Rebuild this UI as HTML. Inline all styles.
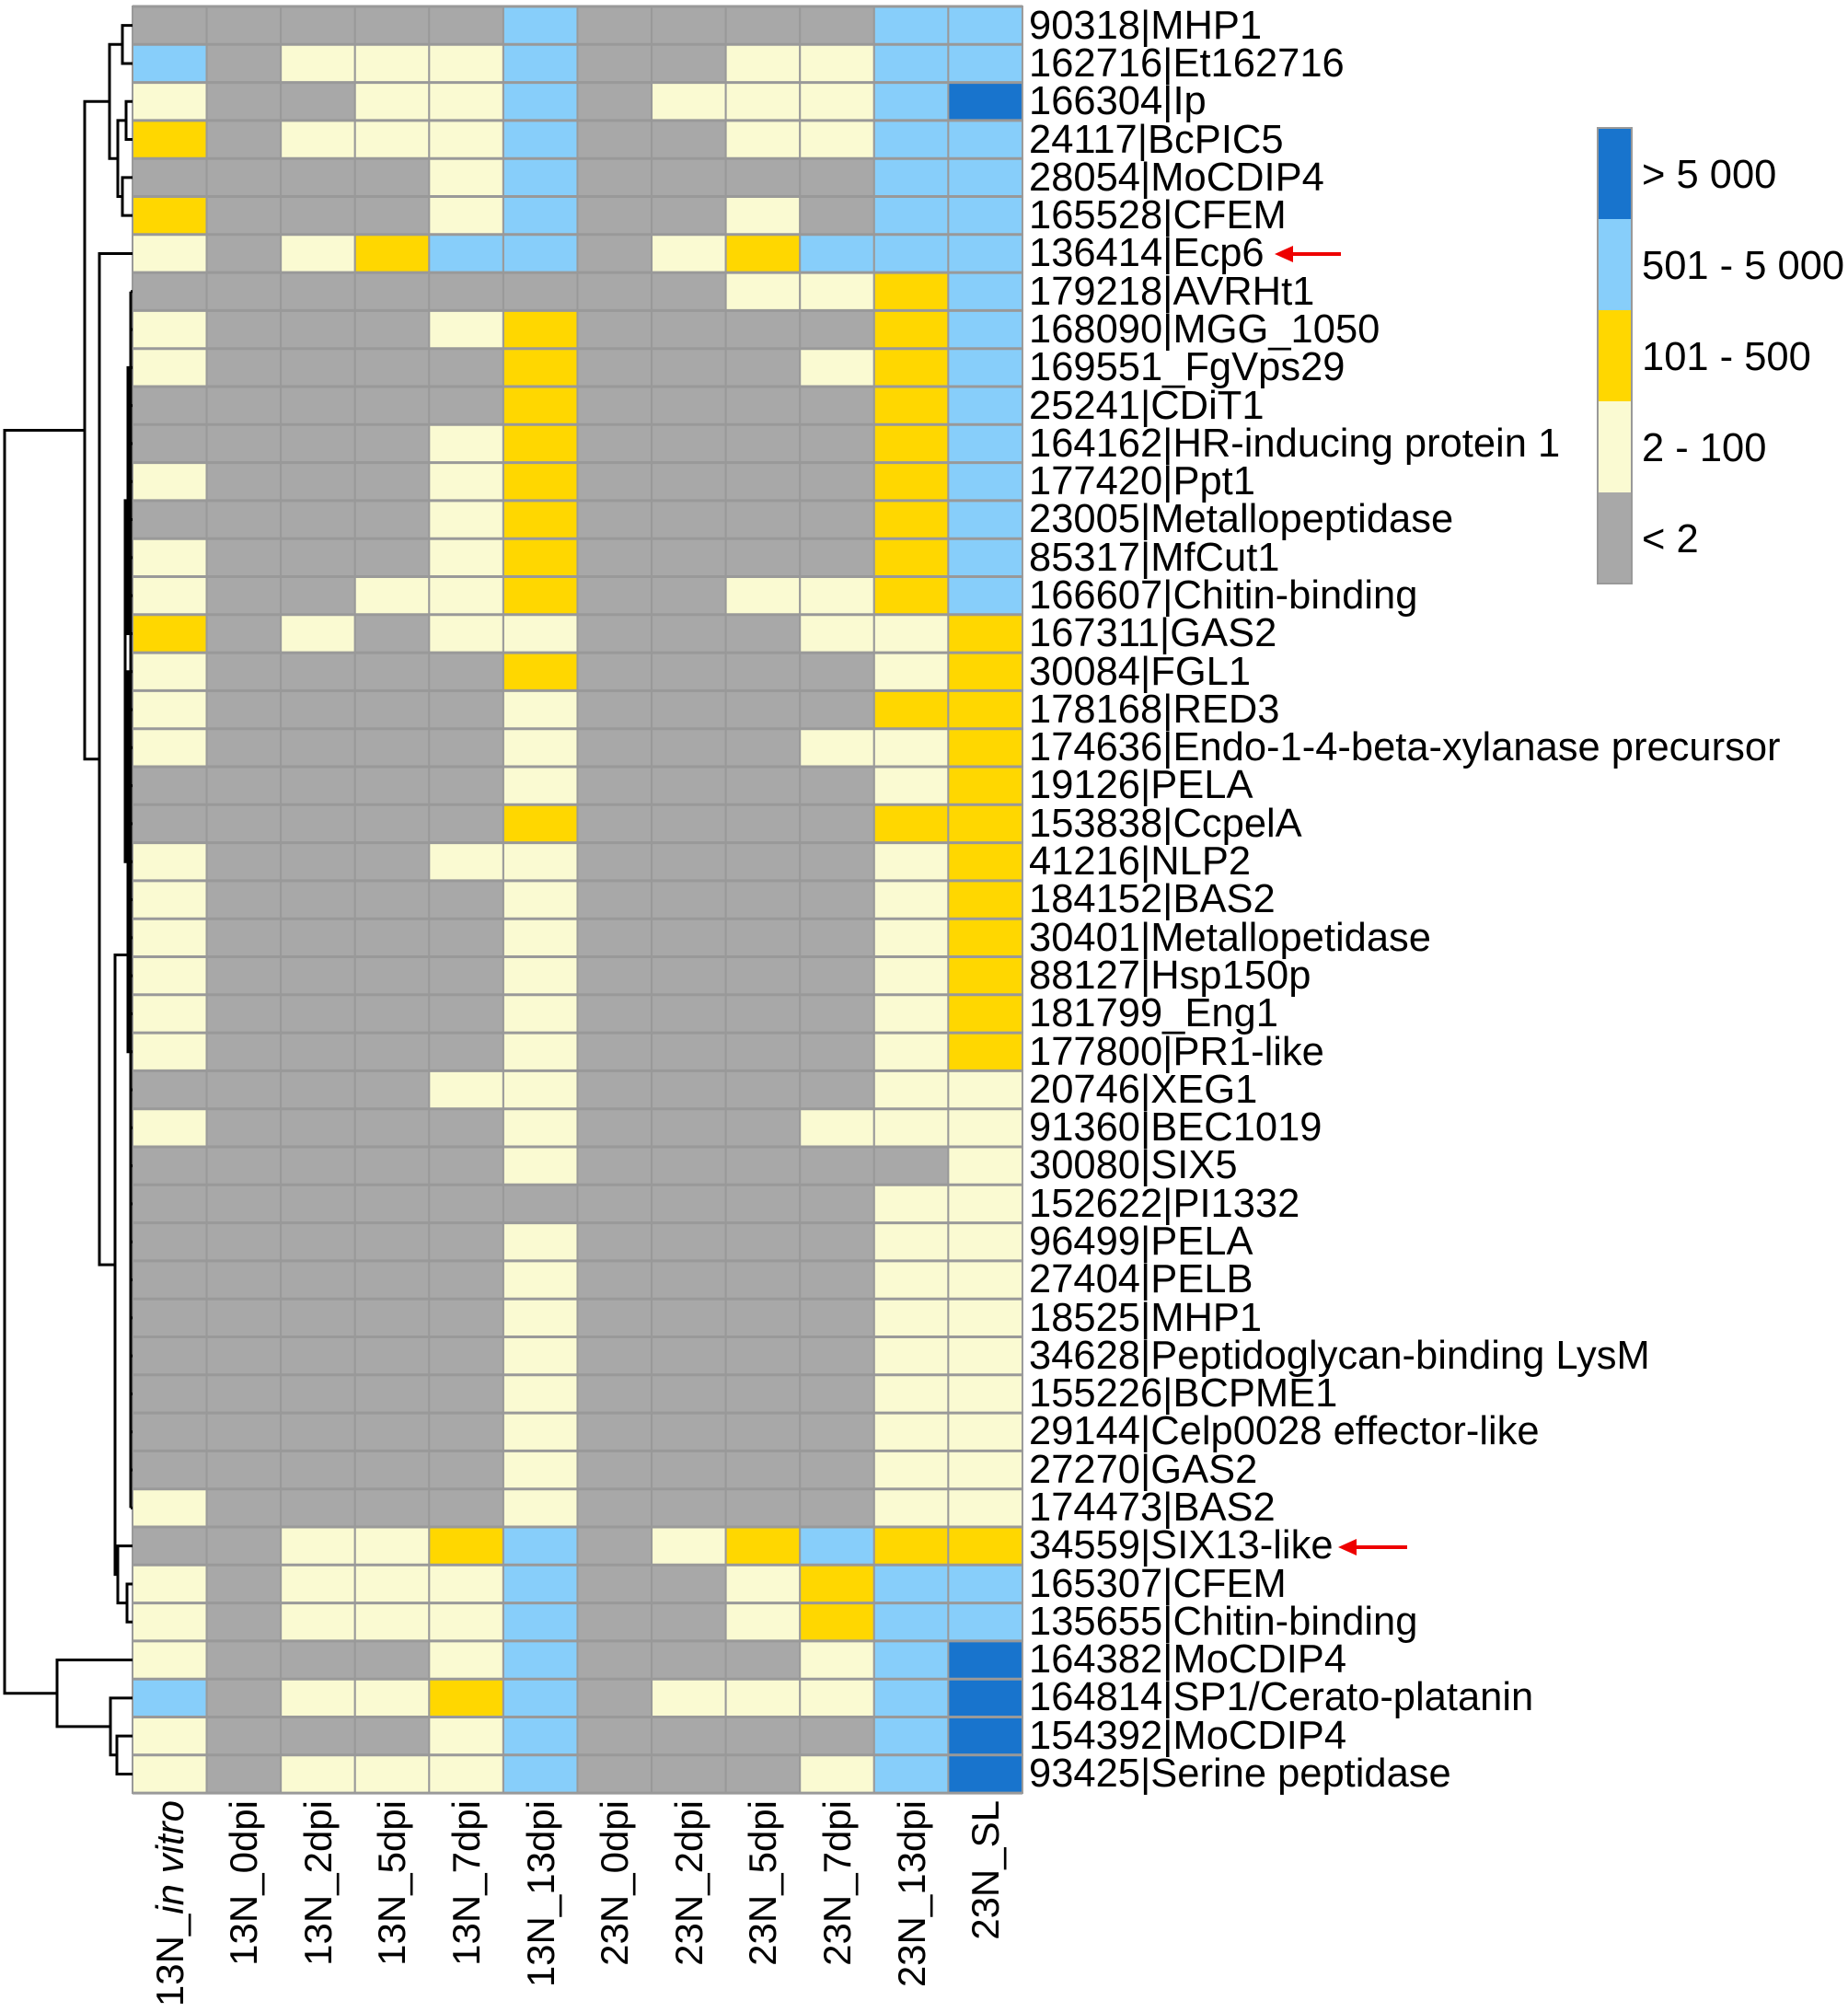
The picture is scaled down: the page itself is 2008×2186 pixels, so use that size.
<!DOCTYPE html>
<html><head><meta charset="utf-8"><style>
html,body{margin:0;padding:0;background:#fff}
svg{display:block}
text{font-family:"Liberation Sans",Arial,sans-serif;font-size:43.5px;fill:#000}
#collabels text{font-size:42px}
</style></head><body>
<svg id="s" width="2008" height="2186" viewBox="0 0 2008 2186" xmlns="http://www.w3.org/2000/svg">
<g id="cells"></g>
<g id="dend" stroke="#000" stroke-width="3" fill="none"></g>
<g id="rowlabels">
<text x="1118" y="42">90318|MHP1</text>
<text x="1118" y="83">162716|Et162716</text>
<text x="1118" y="124">166304|Ip</text>
<text x="1118" y="166">24117|BcPIC5</text>
<text x="1118" y="207">28054|MoCDIP4</text>
<text x="1118" y="248">165528|CFEM</text>
<text x="1118" y="289">136414|Ecp6</text>
<text x="1118" y="331">179218|AVRHt1</text>
<text x="1118" y="372">168090|MGG_1050</text>
<text x="1118" y="413">169551_FgVps29</text>
<text x="1118" y="455">25241|CDiT1</text>
<text x="1118" y="496">164162|HR-inducing protein 1</text>
<text x="1118" y="537">177420|Ppt1</text>
<text x="1118" y="578">23005|Metallopeptidase</text>
<text x="1118" y="620">85317|MfCut1</text>
<text x="1118" y="661">166607|Chitin-binding</text>
<text x="1118" y="702">167311|GAS2</text>
<text x="1118" y="744">30084|FGL1</text>
<text x="1118" y="785">178168|RED3</text>
<text x="1118" y="826">174636|Endo-1-4-beta-xylanase precursor</text>
<text x="1118" y="867">19126|PELA</text>
<text x="1118" y="909">153838|CcpelA</text>
<text x="1118" y="950">41216|NLP2</text>
<text x="1118" y="991">184152|BAS2</text>
<text x="1118" y="1033">30401|Metallopetidase</text>
<text x="1118" y="1074">88127|Hsp150p</text>
<text x="1118" y="1115">181799_Eng1</text>
<text x="1118" y="1157">177800|PR1-like</text>
<text x="1118" y="1198">20746|XEG1</text>
<text x="1118" y="1239">91360|BEC1019</text>
<text x="1118" y="1280">30080|SIX5</text>
<text x="1118" y="1322">152622|PI1332</text>
<text x="1118" y="1363">96499|PELA</text>
<text x="1118" y="1404">27404|PELB</text>
<text x="1118" y="1446">18525|MHP1</text>
<text x="1118" y="1487">34628|Peptidoglycan-binding LysM</text>
<text x="1118" y="1528">155226|BCPME1</text>
<text x="1118" y="1569">29144|Celp0028 effector-like</text>
<text x="1118" y="1611">27270|GAS2</text>
<text x="1118" y="1652">174473|BAS2</text>
<text x="1118" y="1693">34559|SIX13-like</text>
<text x="1118" y="1735">165307|CFEM</text>
<text x="1118" y="1776">135655|Chitin-binding</text>
<text x="1118" y="1817">164382|MoCDIP4</text>
<text x="1118" y="1858">164814|SP1/Cerato-platanin</text>
<text x="1118" y="1900">154392|MoCDIP4</text>
<text x="1118" y="1941">93425|Serine peptidase</text>
</g>
<g id="collabels" text-anchor="end">
<text transform="translate(199,1956) rotate(-90)">13N_<tspan font-style="italic">in vitro</tspan></text>
<text transform="translate(279,1956) rotate(-90)">13N_0dpi</text>
<text transform="translate(360,1956) rotate(-90)">13N_2dpi</text>
<text transform="translate(440,1956) rotate(-90)">13N_5dpi</text>
<text transform="translate(521,1956) rotate(-90)">13N_7dpi</text>
<text transform="translate(602,1956) rotate(-90)">13N_13dpi</text>
<text transform="translate(682,1956) rotate(-90)">23N_0dpi</text>
<text transform="translate(763,1956) rotate(-90)">23N_2dpi</text>
<text transform="translate(843,1956) rotate(-90)">23N_5dpi</text>
<text transform="translate(924,1956) rotate(-90)">23N_7dpi</text>
<text transform="translate(1005,1956) rotate(-90)">23N_13dpi</text>
<text transform="translate(1085,1956) rotate(-90)">23N_SL</text>
</g>
<g id="legend">
<rect x="1736" y="139" width="37" height="99" fill="#1874cd"/>
<rect x="1736" y="238" width="37" height="99" fill="#87cefa"/>
<rect x="1736" y="337" width="37" height="99" fill="#ffd700"/>
<rect x="1736" y="436" width="37" height="99" fill="#fafad2"/>
<rect x="1736" y="535" width="37" height="99" fill="#a8a8a8"/>
<rect x="1736" y="139" width="37" height="495" fill="none" stroke="#999" stroke-width="2"/>
<text x="1784" y="204">&gt; 5 000</text>
<text x="1784" y="303">501 - 5 000</text>
<text x="1784" y="402">101 - 500</text>
<text x="1784" y="501">2 - 100</text>
<text x="1784" y="600">&lt; 2</text>
</g>
<g fill="#e00" stroke="#e00" stroke-width="4">
<line x1="1400" y1="276" x2="1457" y2="276"/>
<polygon points="1385,276 1405,267 1405,285" stroke="none"/>
<line x1="1469" y1="1681" x2="1529" y2="1681"/>
<polygon points="1454,1681 1474,1672 1474,1690" stroke="none"/>
</g>
</svg>
<script>
var rows=["ggggglggggll","lgppplggppll","pggpplgppplD","ygppplggppll","ggggplggggll","ygggplggpgll","pgpyllgpylll","ggggggggppyl","pgggpyggggyl","pggggygggpyl","gggggyggggyl","ggggpyggggyl","pgggpyggggyl","ggggpyggggyl","pgggpyggggyl","pggppyggppyl","ygpgppgggppy","pggggyggggpy","pggggpggggyy","pgggg pgggppy".replace(" ",""),"gggggpggggpy","gggggyggggyy","pgggppggggpy","pggggpggggpy","pggggpggggpy","pggggpggggpy","pggggpggggpy","pggggpggggpy","ggggppggggpp","pggggpgggppp","gggggpgggggp","ggggggggggpp","gggggpggggpp","gggggpggggpp","gggggpggggpp","gggggpggggpp","gggggpggggpp","gggggpggggpp","gggggpggggpp","pggggpggggpp","ggppylgpylyy","pgppplggpyll","pgppplggpyll","pgggplgggplD","lgppylgppplD","pgggplgggglD","pgppplgggplD"];
var col={g:"#a8a8a8",p:"#fafad2",y:"#ffd700",l:"#87cefa",D:"#1874cd"};
var L=144,T=7,W=80.58,H=41.3,ns="http://www.w3.org/2000/svg",g=document.getElementById("cells");
function el(p,t,a){var e=document.createElementNS(ns,t);for(var k in a)e.setAttribute(k,a[k]);p.appendChild(e);return e;}
rows.forEach(function(r,i){for(var j=0;j<12;j++){el(g,"rect",{x:L+j*W,y:T+i*H,width:W,height:H,fill:col[r[j]],stroke:"#999","stroke-width":2});}
 el(g,"line",{x1:L,x2:L+12*W,y1:T+i*H,y2:T+i*H,stroke:"#999","stroke-width":3});});
el(g,"line",{x1:L,x2:L+12*W,y1:T+47*H,y2:T+47*H,stroke:"#999","stroke-width":3});
var d=document.getElementById("dend");
function c(i){return T+H*i+H/2;}
function U(x,y1,y2,xa,xb){el(d,"path",{d:"M"+xa+" "+y1+"H"+x+"V"+y2+"H"+xb});}
U(133,c(0),c(1),144,144);
U(137,c(2),c(3),144,144);
U(133,c(4),c(5),144,144);
var yc=(c(2)+c(3))/2, yd=(c(4)+c(5))/2; U(128,yc,yd,137,133);
var yA1=(c(0)+c(1))/2, yA2=(yc+yd)/2; U(119,yA1,yA2,133,128);
var yA=(yA1+yA2)/2;
for(var i=7;i<=39;i++){el(d,"line",{x1:142,x2:144,y1:c(i),y2:c(i)});}
el(d,"line",{x1:142,x2:142,y1:c(7),y2:c(39),"stroke-width":3});
U(139,c(9),c(16),142,142);
U(139,c(17),c(27),142,142);
U(136,(c(9)+c(16))/2,(c(17)+c(27))/2,139,139);
var yE=(c(7)+c(39))/2+60;
U(138,c(41),c(42),144,144);
var yF=(c(41)+c(42))/2; U(128,c(40),yF,144,138); var yF2=(c(40)+yF)/2;
U(125,yE,yF2,142,128); var yD=(yE+yF2)/2;
U(108,c(6),yD,144,125); var yB=(c(6)+yD)/2;
U(92,yA,yB,119,108); var yTop=(yA+yB)/2;
U(127,c(45),c(46),144,144); var y45=(c(45)+c(46))/2;
U(120,c(44),y45,144,127); var y44=(c(44)+y45)/2;
U(62,c(43),y44,144,120); var yBot=(c(43)+y44)/2;
U(5,yTop,yBot,92,62);
</script>
</body></html>
